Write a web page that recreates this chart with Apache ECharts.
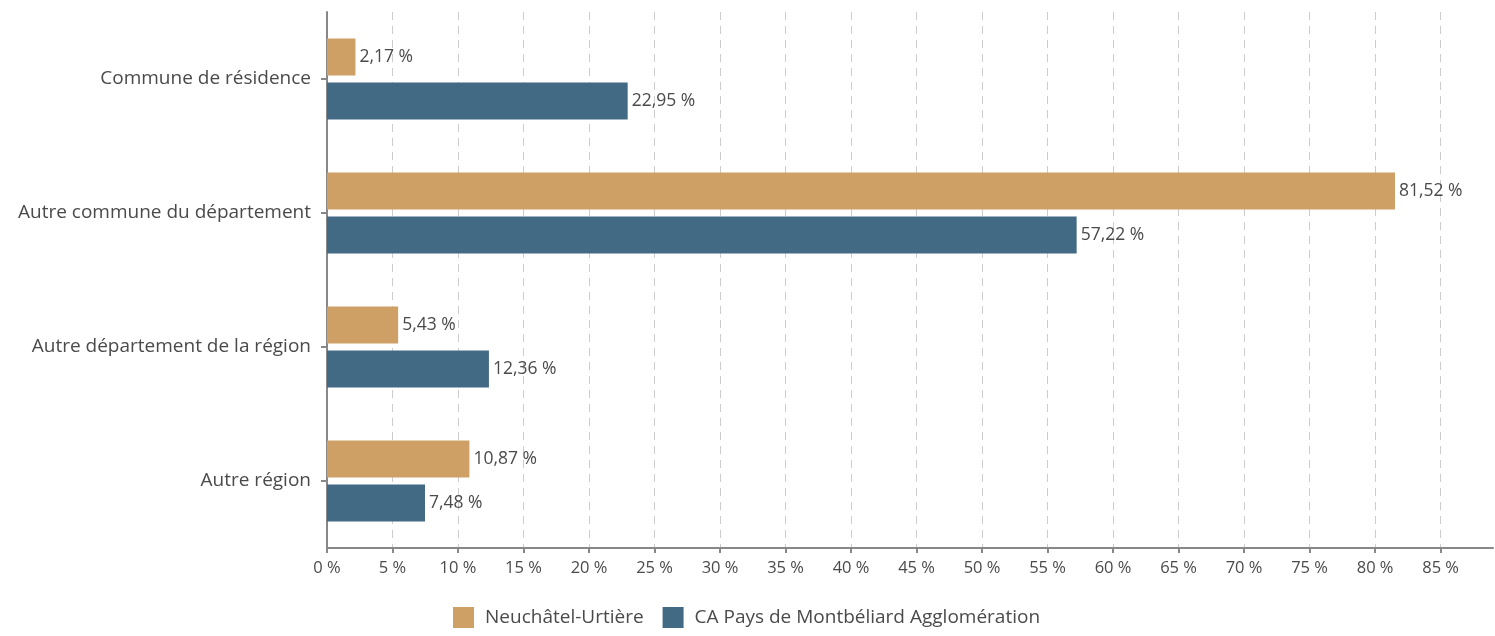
<html>
<head>
    <meta charset="utf-8">
    <title>Lieu de travail</title>
    <script src="https://cdn.jsdelivr.net/npm/echarts@6/dist/echarts.min.js"></script>
    <style>
        html, body { margin: 0; padding: 0; background: #fff; }
    </style>
</head>
<body>
<div id="main" style="width: 1495px;height:636px;"></div>
<script type="text/javascript">
    // données
    var categories = ['Commune de résidence', 'Autre commune du département', 'Autre département de la région', 'Autre région'];
    var neuchatel = [2.17, 81.52, 5.43, 10.87];
    var montbeliard = [22.95, 57.22, 12.36, 7.48];
    var xTicks = [0, 5, 10, 15, 20, 25, 30, 35, 40, 45, 50, 55, 60, 65, 70, 75, 80, 85];

    var font = 'Open Sans';
    var textColor = '#4a4a4a';
    var myChart = echarts.init(document.getElementById('main'));

    function pct(v) {
        return v.toFixed(2).replace('.', ',') + ' %';
    }

    myChart.setOption({
        animation: false,
        textStyle: { fontFamily: font },
        grid: { left: 327, right: 2, top: 12, bottom: 88, containLabel: false },
        legend: {
            bottom: 3,
            left: 448,
            itemWidth: 21,
            itemHeight: 21,
            itemGap: 19,
            icon: 'rect',
            textStyle: { fontFamily: font, fontSize: 19, color: textColor, padding: [0, 0, 0, 6] },
            data: ['Neuchâtel-Urtière', 'CA Pays de Montbéliard Agglomération']
        },
        xAxis: {
            type: 'value',
            min: 0,
            max: 89,
            interval: 5,
            axisLine: { show: true, lineStyle: { color: '#888', width: 2 } },
            axisTick: { show: true, length: 5, lineStyle: { color: '#888', width: 2 } },
            axisLabel: {
                margin: 12,
                fontFamily: font,
                fontSize: 16.5,
                color: textColor,
                showMaxLabel: false,
                formatter: function (v) {
                    return xTicks.indexOf(v) >= 0 ? v + ' %' : '';
                }
            },
            splitLine: {
                show: true,
                showMinLine: false,
                showMaxLine: false,
                lineStyle: { color: '#ccc', type: [8, 6], width: 1 }
            }
        },
        yAxis: {
            type: 'category',
            inverse: true,
            data: categories,
            axisLine: { show: true, lineStyle: { color: '#888', width: 2 } },
            axisTick: { show: true, alignWithLabel: true, length: 6, lineStyle: { color: '#888', width: 2 } },
            axisLabel: { margin: 16, fontFamily: font, fontSize: 19, color: textColor },
            splitLine: { show: false }
        },
        series: [{
            name: 'Neuchâtel-Urtière',
            type: 'bar',
            data: neuchatel,
            barWidth: 37,
            barGap: '19%',
            itemStyle: { color: '#cea066' },
            label: {
                show: true, position: 'right', distance: 4,
                fontFamily: font, fontSize: 17.5, color: textColor,
                formatter: function (p) { return pct(p.value); }
            }
        }, {
            name: 'CA Pays de Montbéliard Agglomération',
            type: 'bar',
            data: montbeliard,
            barWidth: 37,
            itemStyle: { color: '#436a84' },
            label: {
                show: true, position: 'right', distance: 4,
                fontFamily: font, fontSize: 17.5, color: textColor,
                formatter: function (p) { return pct(p.value); }
            }
        }]
    });
</script>
</body>
</html>
